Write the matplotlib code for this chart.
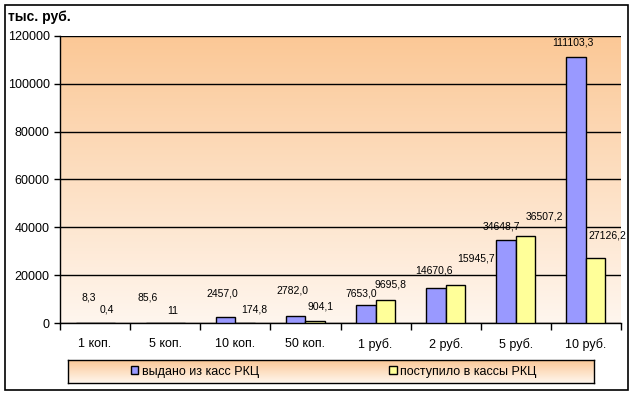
import numpy as np
import matplotlib.pyplot as plt
from matplotlib.patches import Rectangle

plt.rcParams['font.family'] = ['Liberation Sans', 'DejaVu Sans']

# данные
categories = ['1 коп.', '5 коп.', '10 коп.', '50 коп.', '1 руб.', '2 руб.', '5 руб.', '10 руб.']
issued = [8.3, 85.6, 2457.0, 2782.0, 7653.0, 14670.6, 34648.7, 111103.3]
received = [0.4, 11, 174.8, 904.1, 9695.8, 15945.7, 36507.2, 27126.2]
issued_labels = ['8,3', '85,6', '2457,0', '2782,0', '7653,0', '14670,6', '34648,7', '111103,3']
received_labels = ['0,4', '11', '174,8', '904,1', '9695,8', '15945,7', '36507,2', '27126,2']
series_names = ['выдано из касс РКЦ', 'поступило в кассы РКЦ']
yticks = [0, 20000, 40000, 60000, 80000, 100000, 120000]

# смещения подписей (пиксели), как в исходной картинке
issued_off = [(3, 25), (-8, 25), (-3, 24), (-3, 26), (-5, 11), (-2, 17), (-5, 14), (-3, 15)]
received_off = [(2, 13), (-2, 12), (9, 13), (5, 14), (5, 15), (21, 26), (19, 19), (12, 23)]

W, H = 634, 395
fig = plt.figure(figsize=(W / 100, H / 100), dpi=100)
fig.patch.set_facecolor('white')

# внешняя рамка
fig.patches.append(Rectangle((5 / W, 5 / H), 623 / W, 385 / H, transform=fig.transFigure,
                             fill=False, edgecolor='black', linewidth=1.2))

ax = fig.add_axes([60 / W, (H - 323) / H, 561 / W, 287 / H])

# градиент фона
grad = np.linspace(0, 1, 256).reshape(-1, 1)
c_top = np.array([251, 200, 150]) / 255
c_bot = np.array([255, 246, 238]) / 255
img = c_top[None, None, :] * (1 - grad[:, :, None]) + c_bot[None, None, :] * grad[:, :, None]
ax.imshow(img, extent=[0, 1, 0, 1], transform=ax.transAxes, aspect='auto', zorder=0)

x = np.arange(len(categories))
w = 0.278
b1 = ax.bar(x - w / 2, issued, w, color='#9999FF', edgecolor='black', linewidth=1, zorder=3,
            label=series_names[0])
b2 = ax.bar(x + w / 2, received, w, color='#FFFF99', edgecolor='black', linewidth=1, zorder=3,
            label=series_names[1])

for i in range(len(categories)):
    ax.annotate(issued_labels[i], (x[i] - w / 2, issued[i]), xytext=issued_off[i],
                textcoords='offset pixels', ha='center', va='center', fontsize=7.5, zorder=4)
    ax.annotate(received_labels[i], (x[i] + w / 2, received[i]), xytext=received_off[i],
                textcoords='offset pixels', ha='center', va='center', fontsize=7.5, zorder=4)

ax.set_xlim(-0.5, len(categories) - 0.5)
ax.set_ylim(0, 120000)
ax.set_yticks(yticks)
ax.set_yticklabels([str(v) for v in yticks], fontsize=9)
ax.yaxis.grid(True, color='black', linewidth=1, zorder=1)
ax.set_axisbelow(True)
ax.tick_params(axis='y', length=4, width=1, pad=3.5)

ax.set_xticks(x)
ax.set_xticklabels(categories, fontsize=9)
ax.set_xticks(np.arange(-0.5, len(categories)), minor=True)
ax.tick_params(axis='x', which='major', length=0, pad=11)
ax.tick_params(axis='x', which='minor', length=5, width=1)

for s in ['top', 'right']:
    ax.spines[s].set_visible(False)
ax.spines['left'].set_linewidth(1)
ax.spines['bottom'].set_linewidth(1)

fig.text(8 / W, 1 - 17 / H, 'тыс. руб.', fontsize=10, fontweight='bold', va='center', ha='left')

# легенда с градиентом
lax = fig.add_axes([68 / W, (H - 383) / H, 526 / W, 23 / H])
lax.imshow(img, extent=[0, 1, 0, 1], aspect='auto', zorder=0)
lax.set_xlim(0, 1)
lax.set_ylim(0, 1)
lax.set_xticks([])
lax.set_yticks([])
for s in lax.spines.values():
    s.set_linewidth(1)
lax.legend(handles=[b1, b2], loc='center', bbox_to_anchor=(0.505, 0.5), ncol=2, frameon=False,
           fontsize=9, handlelength=0.6, handleheight=0.6, handletextpad=0.3, columnspacing=10.4,
           borderpad=0, borderaxespad=0)

fig.savefig('out.png', dpi=100)
